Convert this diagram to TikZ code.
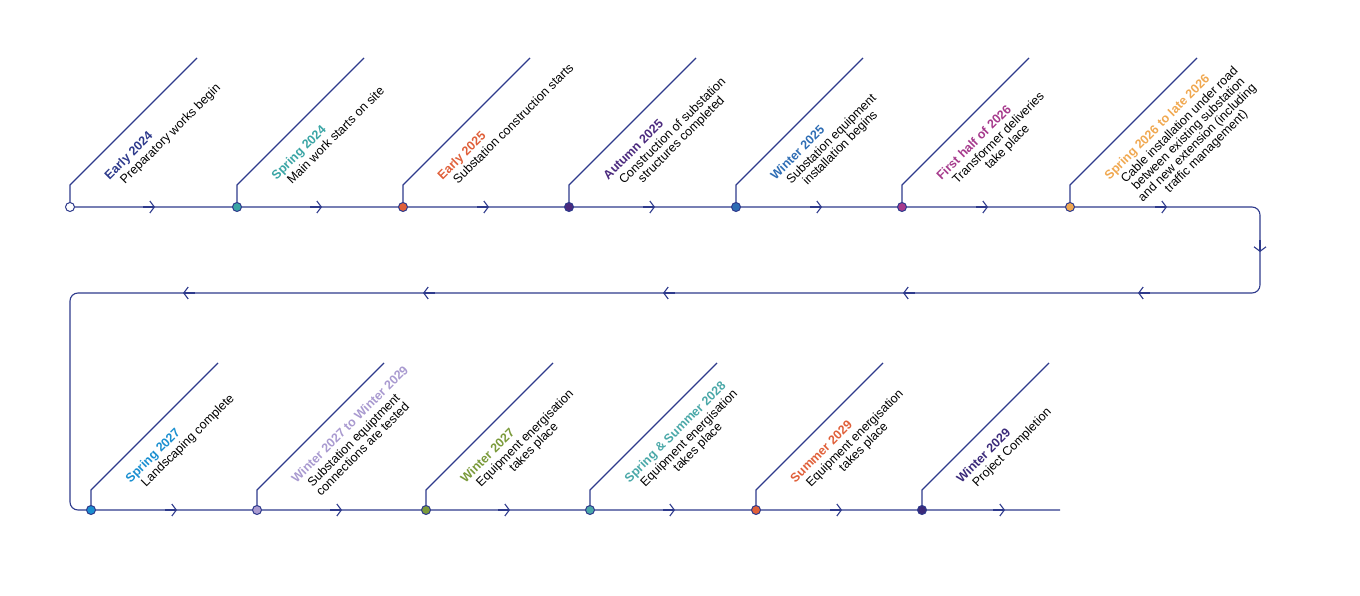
\documentclass[tikz,border=0pt]{standalone}
\usepackage{fontspec}
\setmainfont{Liberation Sans}
\usetikzlibrary{arrows.meta}
\definecolor{navy}{HTML}{2E3A8C}
\definecolor{cA}{HTML}{FFFFFF}
\definecolor{cB}{HTML}{3AA5A5}
\definecolor{cC}{HTML}{E0603A}
\definecolor{cD}{HTML}{4B2A7E}
\definecolor{cE}{HTML}{2E6DB4}
\definecolor{cF}{HTML}{A63A8C}
\definecolor{cG}{HTML}{F0A850}
\definecolor{cH}{HTML}{1A8FD0}
\definecolor{cI}{HTML}{A99AD0}
\definecolor{cJ}{HTML}{7A9A3A}
\definecolor{cK}{HTML}{4AA8A8}
\definecolor{cL}{HTML}{E0603A}
\definecolor{cM}{HTML}{3B2A7A}
\definecolor{tA}{HTML}{2E3A8C}
\newcommand{\msbody}[1]{\hspace*{8pt}\begin{tabular}[t]{@{}c@{}}#1\end{tabular}}
\tikzset{
  track/.style={navy, line width=1.1pt, rounded corners=8pt},
  chevron/.style={navy, line width=1.1pt, -{Straight Barb[length=4.5pt,width=12pt,line width=1.1pt]}},
  stem/.style={navy, line width=1.1pt},
  dot/.style={circle, draw=navy, line width=1pt, inner sep=0pt, minimum size=9pt},
  label/.style={rotate=45, anchor=north west, align=left,
    font=\fontsize{12.5}{14}\selectfont, inner sep=0pt}
}
\begin{document}
\begin{tikzpicture}[x=1pt,y=-1pt]
  \useasboundingbox (0,0) rectangle (1360,596);
  \renewcommand{\arraystretch}{0.82}

  % Top row
  \foreach \n/\x/\c/\t/\d in {
      a/70/tA/Early 2024/Preparatory works begin,
      b/237/cB/Spring 2024/Main work starts on site,
      c/403/cC/Early 2025/Substation construction starts,
      d/569/cD/Autumn 2025/{Construction of substation\\structures completed},
      e/736/cE/Winter 2025/{Substation equipment\\installation begins},
      f/902/cF/First half of 2026/{Transformer deliveries\\take place},
      g/1070/cG/Spring 2026 to late 2026/{Cable installation under road\\between existing substation\\and new extension (including\\traffic management)}}{
    \draw[stem] (\x,207) -- (\x,185) -- (\x+127,58);
    \coordinate (\n) at (\x,207);
    \node[label] (t\n) at (\x+33,174) {\textbf{\color{\c}\t}\\\msbody{\d}};
  }

  % Bottom row
  \foreach \n/\x/\c/\t/\d in {
      h/91/cH/Spring 2027/Landscaping complete,
      i/257/cI/Winter 2027 to Winter 2029/{Substation equiptment\\connections are tested},
      j/426/cJ/Winter 2027/{Equipment energisation\\takes place},
      k/590/cK/Spring \& Summer 2028/{Equipment energisation\\takes place},
      l/756/cL/Summer 2029/{Equipment energisation\\takes place},
      m/922/cM/Winter 2029/Project Completion}{
    \draw[stem] (\x,510) -- (\x,490) -- (\x+127,363);
    \coordinate (\n) at (\x,510);
    \node[label] (t\n) at (\x+33,477) {\textbf{\color{\c}\t}\\\msbody{\d}};
  }

  % Track
  \coordinate (tr) at (1260,207);
  \coordinate (br) at (1260,293);
  \coordinate (bl) at (70,293);
  \coordinate (lb) at (70,510);
  \coordinate (end) at (1060,510);
  \draw[track] (a) -- (tr) -- (br) -- (bl) -- (lb) -- (end);

  % Direction marks
  \foreach \x in {153,320,487,653,820,986,1165}
    \draw[chevron] (\x-10,207) -- (\x+2,207);
  \draw[chevron] (1260,240) -- (1260,252);
  \foreach \x in {1140,905,665,425,185}
    \draw[chevron] (\x+10,293) -- (\x-2,293);
  \foreach \x in {175,340,508,673,840,1003}
    \draw[chevron] (\x-10,510) -- (\x+2,510);

  % Milestone dots
  \foreach \n/\c in {a/cA,b/cB,c/cC,d/cD,e/cE,f/cF,g/cG,h/cH,i/cI,j/cJ,k/cK,l/cL,m/cM}
    \node[dot, fill=\c] (d\n) at (\n) {};
\end{tikzpicture}
\end{document}
